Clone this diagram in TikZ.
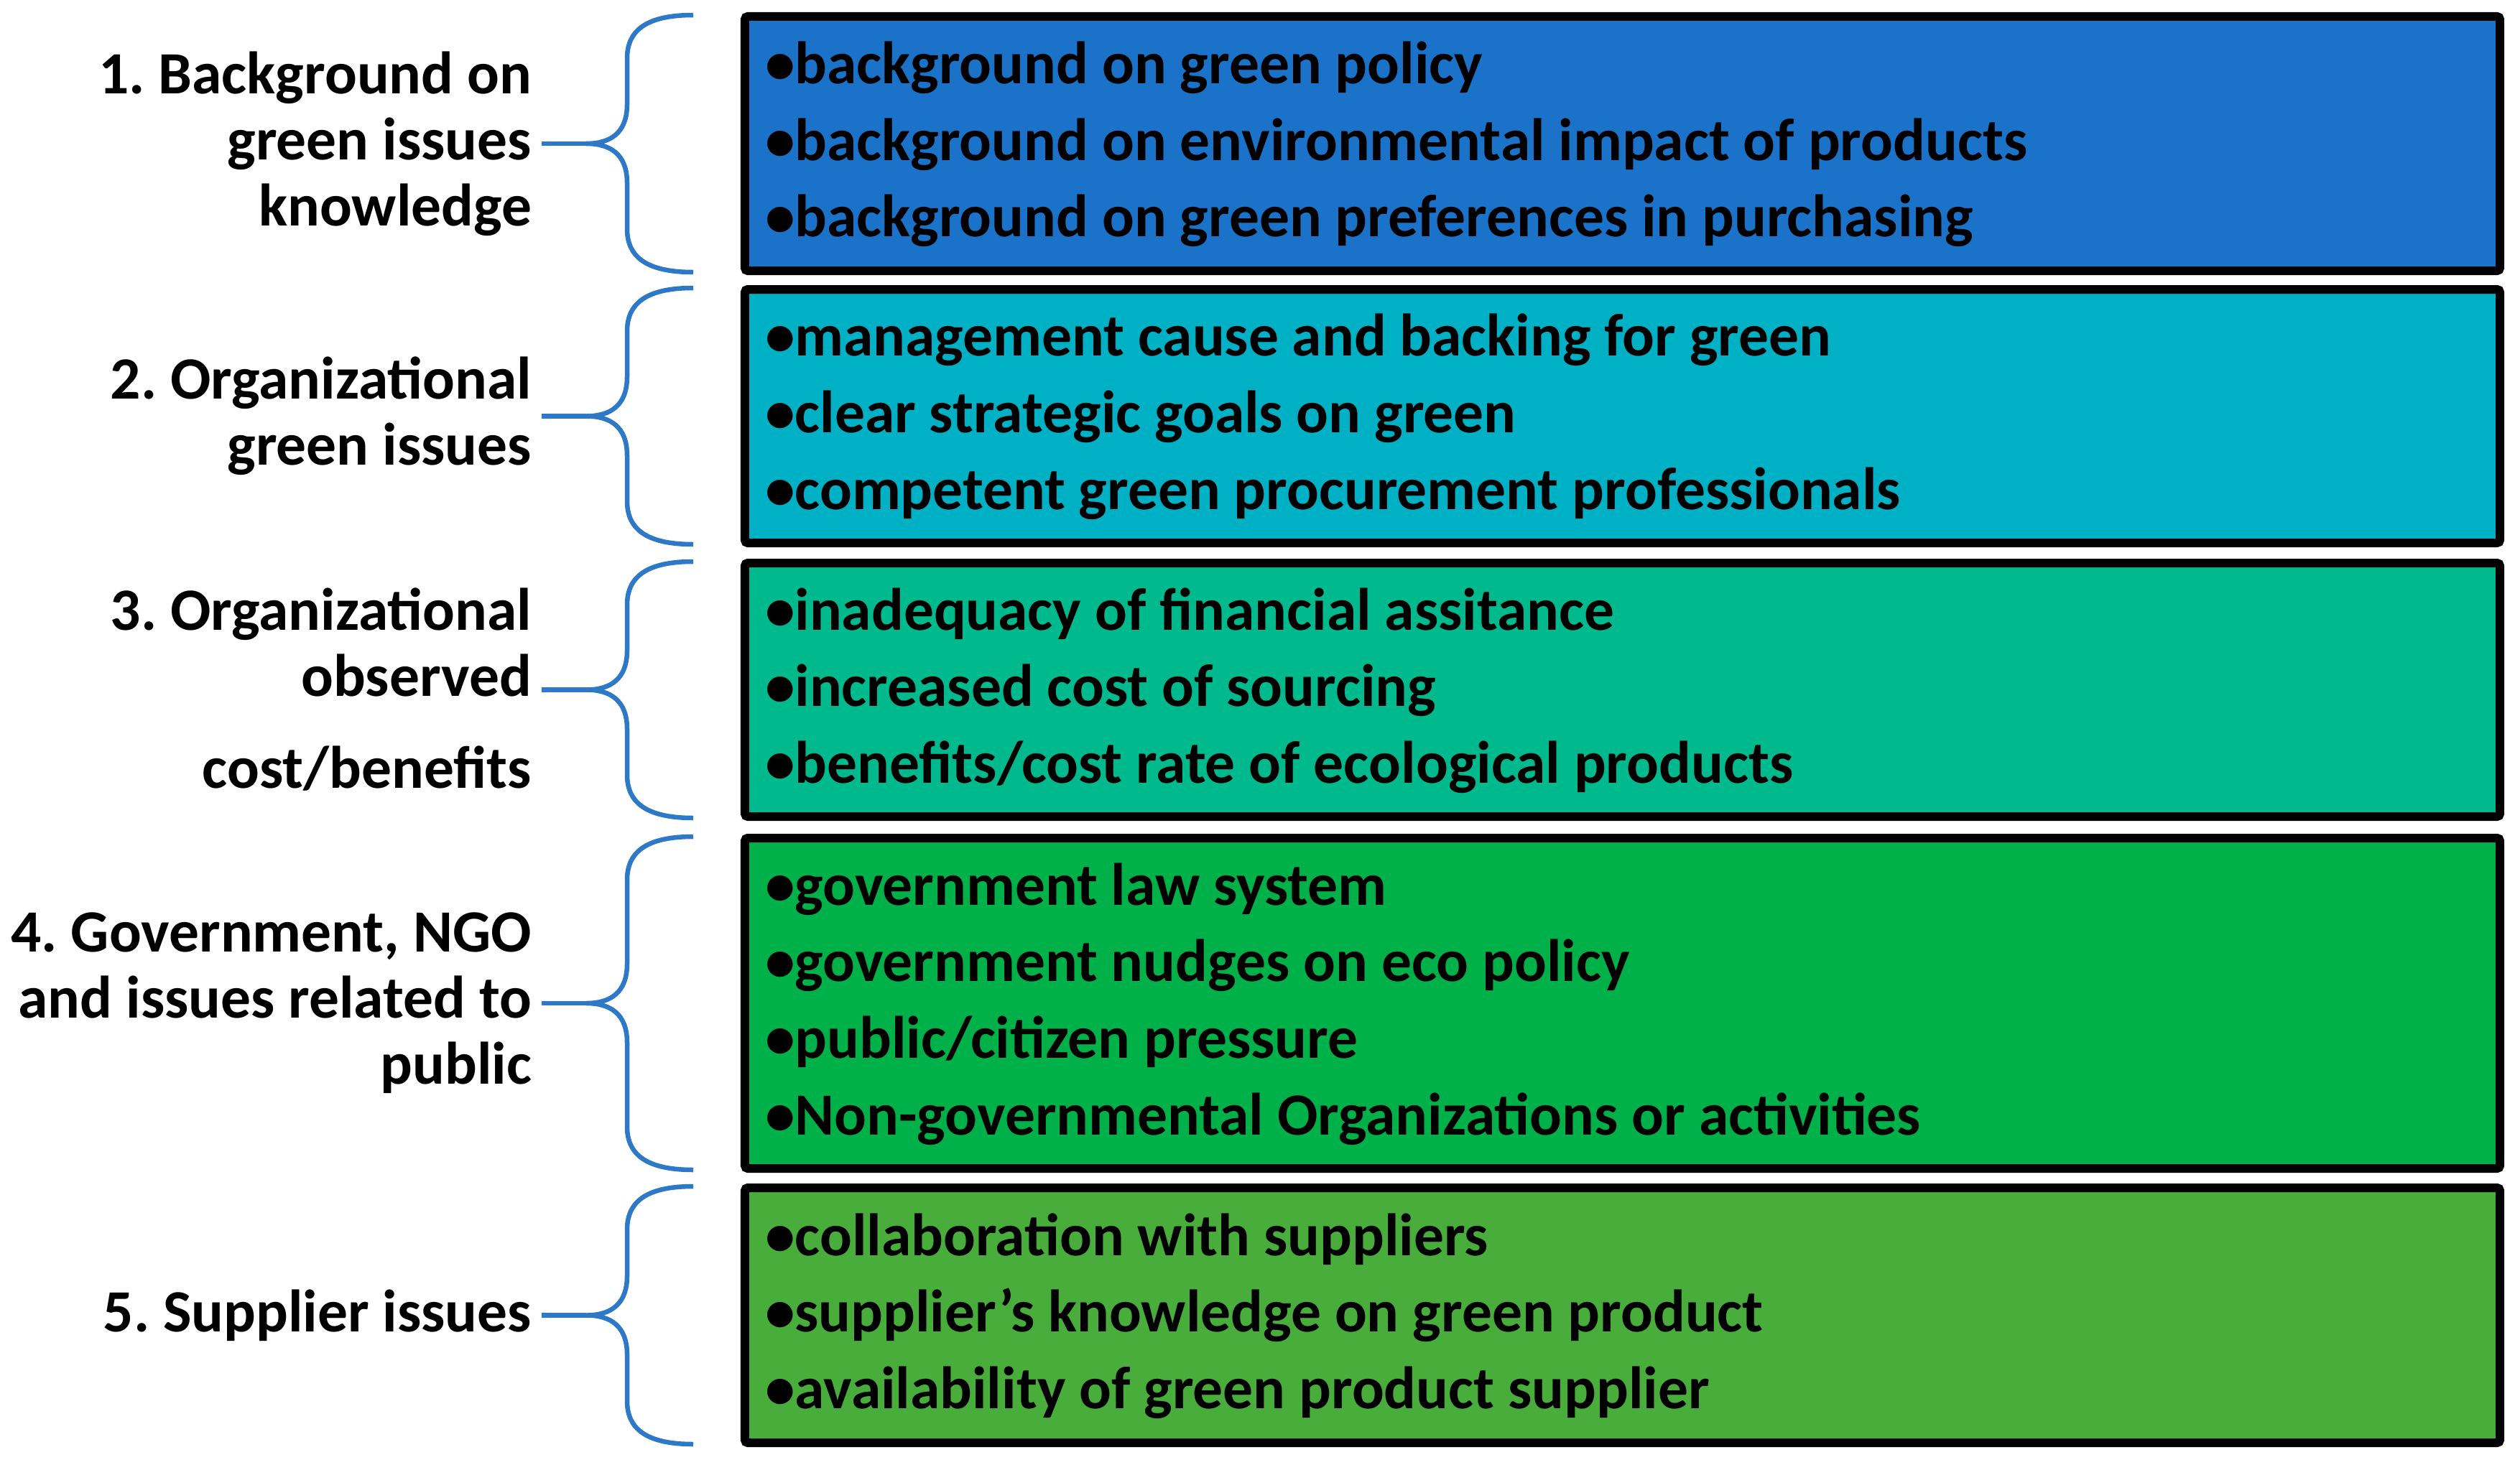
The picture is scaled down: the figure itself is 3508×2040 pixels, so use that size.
\documentclass[tikz,border=0pt]{standalone}
\usepackage{fontspec}
\setmainfont{Carlito}
\definecolor{cA}{HTML}{1A73C8}
\definecolor{cB}{HTML}{00B0C4}
\definecolor{cC}{HTML}{00BA8D}
\definecolor{cD}{HTML}{00B14A}
\definecolor{cE}{HTML}{48AD3B}
\definecolor{braceblue}{HTML}{2E78C8}
\newcommand\drawbrace[3]{%
  \pgfmathsetmacro\bcen{(#1+#2)/2}%
  \coordinate (#3) at (816,\bcen);
  \draw[bracest] (965,#1) .. controls (905,#1) and (873,#1+18) .. (873,#1+60)
     -- (873,\bcen-55) .. controls (873,\bcen-15) and (850,\bcen) .. (#3)
     .. controls (850,\bcen) and (873,\bcen+15) .. (873,\bcen+55)
     -- (873,#2-60) .. controls (873,#2-18) and (905,#2) .. (965,#2);
}
\begin{document}
\frenchspacing
\begin{tikzpicture}[x=0.2pt,y=-0.2pt,
  boxst/.style={draw=black, line width=2.4pt, rounded corners=0.8pt, minimum width=488.6pt, inner sep=0pt, anchor=center},
  itemst/.style={anchor=west, inner sep=0pt, align=left, text=black, font=\fontsize{16.7pt}{21.35pt}\selectfont\bfseries\frenchspacing},
  labst/.style={anchor=east, inner sep=0pt, outer xsep=2.8pt, align=right, text=black, font=\fontsize{16.7pt}{18.4pt}\selectfont\bfseries\frenchspacing},
  bracest/.style={draw=braceblue, line width=1.3pt},
  stubst/.style={draw=braceblue, line width=1.3pt}]
\useasboundingbox[fill=white] (0,0) rectangle (3508,2040);

% boxes
\node[boxst, fill=cA, minimum height=70.8pt] (b1) at (2258.5,200) {};
\node[boxst, fill=cB, minimum height=70.6pt] (b2) at (2258.5,579.5) {};
\node[boxst, fill=cC, minimum height=70.6pt] (b3) at (2258.5,960.5) {};
\node[boxst, fill=cD, minimum height=92pt] (b4) at (2258.5,1397) {};
\node[boxst, fill=cE, minimum height=71pt] (b5) at (2258.5,1831.5) {};

% box texts
\node[itemst] (t1) at (1064,201) {•background on green policy\\•background on environmental impact of products\\•background on green preferences in purchasing};
\node[itemst] (t2) at (1064,580.5) {•management cause and backing for green\\•clear strategic goals on green\\•competent green procurement professionals};
\node[itemst] (t3) at (1064,961.5) {•inadequacy of financial assitance\\•increased cost of sourcing\\•benefits/cost rate of ecological products};
\node[itemst] (t4) at (1064,1398) {•government law system\\•government nudges on eco policy\\•public/citizen pressure\\•Non-governmental Organizations or activities};
\node[itemst] (t5) at (1064,1832.5) {•collaboration with suppliers\\•supplier’s knowledge on green product\\•availability of green product supplier};

% braces
\drawbrace{21}{379}{tip1}
\drawbrace{401}{758}{tip2}
\drawbrace{782}{1139}{tip3}
\drawbrace{1165}{1629}{tip4}
\drawbrace{1652}{2011}{tip5}

% labels
\node[labst] (l1) at (754,200) {1. Background on\\green issues\\knowledge};
\node[labst] (l2) at (754,579.5) {2. Organizational\\green issues};
\node[labst] (l3) at (754,960.5) {3. Organizational\\observed\\[7.2pt]cost/benefits};
\node[labst] (l4) at (754,1397) {4. Government, NGO\\and issues related to\\public};
\node[labst] (l5) at (754,1831.5) {5. Supplier issues};

\draw[stubst] (l1.east) -- (tip1);
\draw[stubst] (l2.east) -- (tip2);
\draw[stubst] (l3.east) -- (tip3);
\draw[stubst] (l4.east) -- (tip4);
\draw[stubst] (l5.east) -- (tip5);
\end{tikzpicture}
\end{document}
